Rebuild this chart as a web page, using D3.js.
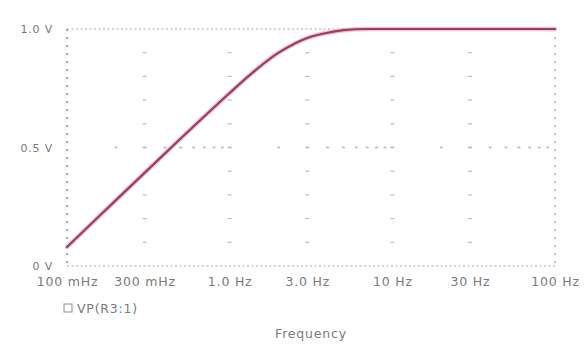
<!DOCTYPE html>
<html><head><meta charset="utf-8">
<script src="https://cdn.jsdelivr.net/npm/d3@7"></script>
<style>
html,body{margin:0;padding:0;background:#fff;}
svg{display:block;}
text{font-family:"DejaVu Sans",sans-serif;fill:#7a7a7a;}
</style></head>
<body>
<svg id="chart" width="588" height="349"></svg>
<script>
// Data
const freqs = [0.1, 0.15, 0.2, 0.3, 0.5, 0.7, 1.0, 1.3, 1.7, 2.0, 2.5, 3.0, 4.0, 5.0, 7.0, 10, 30, 100];
const volts = [0.08, 0.196, 0.278, 0.393, 0.538, 0.632, 0.73, 0.80, 0.866, 0.90, 0.938, 0.962, 0.984, 0.995, 1.0, 1.0, 1.0, 1.0];
const xTicks = [0.1, 0.3, 1, 3, 10, 30, 100];
const xTickLabels = ["100 mHz", "300 mHz", "1.0 Hz", "3.0 Hz", "10 Hz", "30 Hz", "100 Hz"];
const yTicks = [0, 0.5, 1];
const yTickLabels = ["0 V", "0.5 V", "1.0 V"];
const seriesName = "VP(R3:1)";
const xTitle = "Frequency";

const svg = d3.select("#chart");
const L = 67, R = 555, T = 29, B = 266;
const x = d3.scaleLog().domain([0.1, 100]).range([L, R]);
const y = d3.scaleLinear().domain([0, 1]).range([B, T]);

const grid = svg.append("g");
// vertical grid marks at inner major ticks, dotted every 0.1 V
const yMinor = d3.range(1, 10).map(d => d / 10);
xTicks.slice(1, -1).forEach(f => {
  yMinor.forEach(v => {
    grid.append("line").attr("x1", x(f) - 2).attr("x2", x(f) + 2)
      .attr("y1", y(v)).attr("y2", y(v))
      .attr("stroke", "#bdbdbd").attr("stroke-width", 1.2);
  });
});
// horizontal grid at 0.5 V with dots at log minor positions
const xMinor = [];
[0.1, 1, 10].forEach(dec => { for (let k = 2; k <= 9; k++) xMinor.push(dec * k); });
xMinor.push(1, 10);
xMinor.forEach(f => {
  grid.append("line").attr("x1", x(f) - 1.5).attr("x2", x(f) + 1.5)
    .attr("y1", y(0.5)).attr("y2", y(0.5))
    .attr("stroke", "#b5b5b5").attr("stroke-width", 1.5);
});

// frame
const frame = svg.append("g").attr("stroke", "#a9a9a9").attr("fill", "none");
frame.append("line").attr("x1", L).attr("x2", R).attr("y1", T).attr("y2", T)
  .attr("stroke-width", 1.2).attr("stroke-dasharray", "2,2.5");
frame.append("line").attr("x1", L).attr("x2", R).attr("y1", B).attr("y2", B)
  .attr("stroke-width", 1.2).attr("stroke-dasharray", "2,2.5");
frame.append("line").attr("x1", L).attr("x2", L).attr("y1", T).attr("y2", B)
  .attr("stroke-width", 2).attr("stroke-dasharray", "2,6");
frame.append("line").attr("x1", R).attr("x2", R).attr("y1", T).attr("y2", B)
  .attr("stroke-width", 1.5).attr("stroke-dasharray", "2,6");

// curve
const data = freqs.map((f, i) => [f, volts[i]]);
const line = d3.line().x(d => x(d[0])).y(d => y(d[1])).curve(d3.curveMonotoneX);
svg.append("path").datum(data).attr("d", line).attr("fill", "none")
  .attr("stroke", "#f1c3d0").attr("stroke-width", 4.5).attr("stroke-linecap", "round");
svg.append("path").datum(data).attr("d", line).attr("fill", "none")
  .attr("stroke", "#9e3d59").attr("stroke-width", 2.2).attr("stroke-linecap", "round");

// y labels
const yAxis = d3.axisLeft(y).tickValues(yTicks).tickSize(0).tickPadding(14)
  .tickFormat((d, i) => yTickLabels[i]);
const gy = svg.append("g").attr("transform", `translate(${L},0)`).call(yAxis);
gy.select(".domain").remove();
gy.selectAll("text").attr("font-size", 11).attr("letter-spacing", 0.8)
  .attr("font-family", "DejaVu Sans").attr("fill", "#7a7a7a");

// x labels
const xAxis = d3.axisBottom(x).tickValues(xTicks).tickSize(0).tickPadding(11)
  .tickFormat((d, i) => xTickLabels[i]);
const gx = svg.append("g").attr("transform", `translate(0,${B})`).call(xAxis);
gx.select(".domain").remove();
gx.selectAll("text").attr("font-size", 12.5).attr("letter-spacing", 0.8)
  .attr("font-family", "DejaVu Sans").attr("fill", "#7a7a7a");

// legend
svg.append("rect").attr("x", 64).attr("y", 304).attr("width", 8).attr("height", 8)
  .attr("fill", "none").attr("stroke", "#8a8a8a").attr("stroke-width", 1);
svg.append("text").attr("x", 77).attr("y", 313).attr("font-size", 12.5)
  .attr("letter-spacing", 0.8).text(seriesName);

// x title
svg.append("text").attr("x", (L + R) / 2).attr("y", 338).attr("text-anchor", "middle")
  .attr("font-size", 12.5).attr("letter-spacing", 0.8).text(xTitle);
</script>
</body></html>
